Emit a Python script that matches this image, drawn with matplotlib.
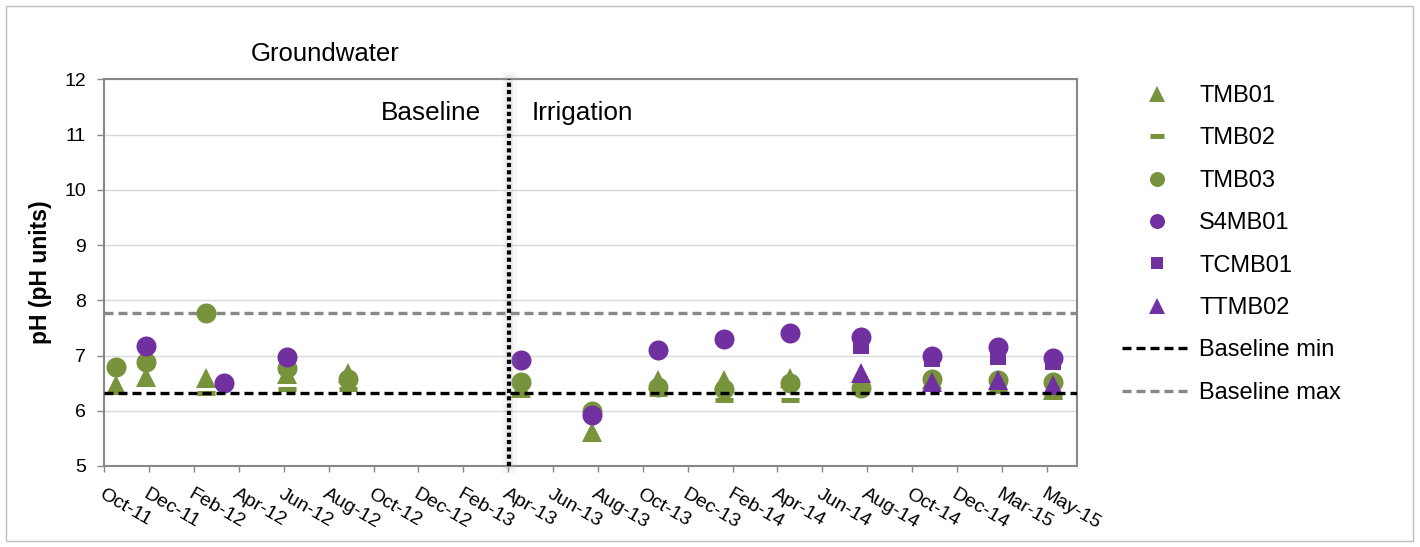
import numpy as np
import pandas as pd
import matplotlib
matplotlib.use('Agg')
import matplotlib.pyplot as plt
import matplotlib.transforms as mtransforms
from matplotlib.patches import Rectangle

plt.rcParams['font.family'] = ['Liberation Sans', 'DejaVu Sans']

nan = np.nan

# sampling dates and pH per monitoring bore
sample_dates = ['2011-10-25', '2011-12-05', '2012-02-27', '2012-03-22', '2012-06-18',
                '2012-09-10', '2013-05-07', '2013-08-13', '2013-11-12', '2014-02-11',
                '2014-05-13', '2014-08-19', '2014-11-25', '2015-02-25', '2015-05-12']

tmb01 = [6.47, 6.62, 6.59, nan, 6.67, 6.68, 6.41, 5.62, 6.56, 6.55, 6.59, nan, 6.58, nan, 6.38]
tmb02 = [nan, nan, 6.32, nan, 6.39, 6.40, nan, nan, 6.30, 6.20, 6.20, nan, nan, 6.35, 6.25]
tmb03 = [6.79, 6.88, 7.77, nan, 6.78, 6.58, 6.52, 6.00, 6.43, 6.40, 6.51, 6.42, 6.58, 6.55, 6.52]
s4mb01 = [nan, 7.17, nan, 6.50, 6.97, nan, 6.92, 5.93, 7.10, 7.30, 7.41, 7.33, 7.00, 7.15, 6.96]
tcmb01 = [nan, nan, nan, nan, nan, nan, nan, nan, nan, nan, nan, 7.18, 6.94, 6.97, 6.88]
ttmb02 = [nan, nan, nan, nan, nan, nan, nan, nan, nan, nan, nan, 6.69, 6.52, 6.56, 6.47]

baseline_min = 6.32
baseline_max = 7.77
irrigation_start = '2013-04-20'

tick_labels = ['Oct-11', 'Dec-11', 'Feb-12', 'Apr-12', 'Jun-12', 'Aug-12', 'Oct-12', 'Dec-12',
               'Feb-13', 'Apr-13', 'Jun-13', 'Aug-13', 'Oct-13', 'Dec-13', 'Feb-14', 'Apr-14',
               'Jun-14', 'Aug-14', 'Oct-14', 'Dec-14', 'Mar-15', 'May-15']
axis_start = pd.Timestamp('2011-10-09')
axis_end = pd.Timestamp('2015-06-14')

green = '#77933C'
purple = '#7030A0'

W, H = 1420, 547
fig = plt.figure(figsize=(W / 100, H / 100), dpi=100)
ax = fig.add_axes([104.3 / W, 1 - 466 / H, (1077 - 104.3) / W, (466 - 79.3) / H])

dates = pd.to_datetime(sample_dates)

ax.plot(dates, tmb01, ls='none', marker='^', ms=14.5, mew=0, color=green, label='TMB01', zorder=3)
ax.plot(dates, tmb02, ls='none', marker='_', ms=13, mew=3.6, color=green, label='TMB02', zorder=3)
ax.plot(dates, tmb03, ls='none', marker='o', ms=14.4, mew=0, color=green, label='TMB03', zorder=3)
ax.plot(dates, s4mb01, ls='none', marker='o', ms=14.4, mew=0, color=purple, label='S4MB01', zorder=3)
ax.plot(dates, tcmb01, ls='none', marker='s', ms=12.2, mew=0, color=purple, label='TCMB01', zorder=3)
ax.plot(dates, ttmb02, ls='none', marker='^', ms=14.5, mew=0, color=purple, label='TTMB02', zorder=3)

ax.axhline(baseline_min, color='black', lw=2.4, ls=(0, (2.7, 1.5)), zorder=5, label='Baseline min')
ax.axhline(baseline_max, color='#878787', lw=2.4, ls=(0, (2.7, 1.5)), zorder=2, label='Baseline max')

# divider between baseline and irrigation periods, with a soft halo
x0 = pd.Timestamp(irrigation_start)
ax.axvline(x0, color='#aaaaaa', lw=11, alpha=0.08, zorder=4, clip_on=False)
ax.axvline(x0, color='#aaaaaa', lw=6, alpha=0.15, zorder=4, clip_on=False)
ax.axvline(x0, color='black', lw=3, ls=(0, (1, 0.75)), zorder=6)

ax.set_ylim(5, 12)
ax.set_yticks(range(5, 13))
ax.set_xlim(axis_start, axis_end)
tick_pos = [axis_start + pd.Timedelta(days=62 * i) for i in range(len(tick_labels))]
ax.set_xticks(tick_pos)
ax.set_xticklabels(tick_labels, rotation=-30, ha='left', va='top', rotation_mode='anchor',
                   fontsize=14)
shift = mtransforms.ScaledTranslation(5 / 100, 0, fig.dpi_scale_trans)
for lbl in ax.get_xticklabels():
    lbl.set_transform(lbl.get_transform() + shift)

ax.yaxis.grid(True, color='#D9D9D9', lw=1)
ax.set_axisbelow(True)
for s in ax.spines.values():
    s.set_color('#878787')
    s.set_linewidth(1.5)
ax.tick_params(axis='both', direction='out', color='#878787', width=1)
ax.tick_params(axis='y', length=5, pad=8, labelsize=14)
ax.tick_params(axis='x', length=4, pad=10)

fig.text(251 / W, 1 - 61 / H, 'Groundwater', fontsize=18.5, ha='left', va='baseline')
fig.text(481 / W, 1 - 120 / H, 'Baseline', fontsize=18.8, ha='right', va='baseline')
fig.text(532 / W, 1 - 120 / H, 'Irrigation', fontsize=18.8, ha='left', va='baseline')
fig.text(40 / W, 1 - 272.5 / H, 'pH (pH units)', rotation=90, fontsize=16.5,
         fontweight='bold', ha='center', va='center')

ax.legend(loc='upper left', bbox_to_anchor=(1122 / W, 1 - 85 / H), bbox_transform=fig.transFigure,
          frameon=False, fontsize=17, markerscale=0.75, handlelength=2.97, handletextpad=0.3,
          labelspacing=0.864, borderpad=0, borderaxespad=0)

fig.add_artist(Rectangle((6 / W, 6 / H), (1413 - 6) / W, (541 - 6) / H, transform=fig.transFigure,
                         fill=False, ec='#BFBFBF', lw=1))

fig.savefig('out.png', dpi=100)
